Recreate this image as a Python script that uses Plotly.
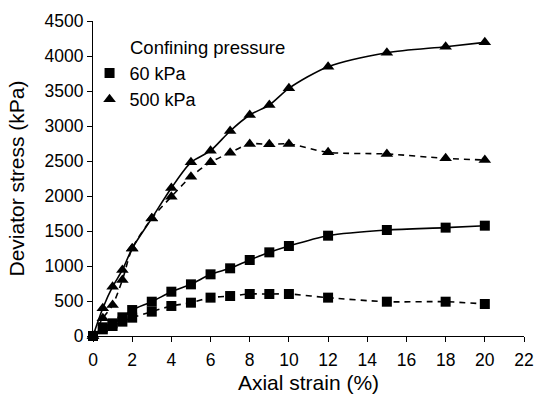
import plotly.graph_objects as go

strain = [0, 0.5, 1, 1.5, 2, 3, 4, 5, 6, 7, 8, 9, 10, 12, 15, 18, 20]
peak_60 = [0, 124, 181, 267, 371, 490, 633, 738, 881, 967, 1086, 1195, 1286, 1433, 1514, 1548, 1576]
res_60 = [0, 95, 143, 205, 262, 348, 429, 476, 548, 571, 600, 600, 600, 548, 490, 490, 457]
peak_500 = [0, 396, 704, 943, 1250, 1681, 2114, 2481, 2647, 2929, 3157, 3300, 3538, 3847, 4047, 4133, 4195]
res_500 = [0, 253, 443, 800, 1250, 1680, 1990, 2276, 2481, 2619, 2743, 2738, 2743, 2624, 2600, 2538, 2514]

x_ticks = list(range(0, 23, 2))
y_ticks = list(range(0, 4501, 500))

FONT = "Liberation Sans, Arial, sans-serif"
fig = go.Figure()

line_solid = dict(color="black", width=1.6, shape="spline", smoothing=0.8)
line_dash = dict(color="black", width=1.6, shape="spline", smoothing=0.8, dash="6px,5px")

for ys, ln in [(peak_60, line_solid), (res_60, line_dash), (peak_500, line_solid), (res_500, line_dash)]:
    fig.add_trace(go.Scatter(x=strain, y=ys, mode="lines", line=ln, showlegend=False,
                             hoverinfo="skip", cliponaxis=False))

fig.add_trace(go.Scatter(x=strain + strain, y=peak_60 + res_60, mode="markers", name="60 kPa",
                         marker=dict(symbol="square", size=10, color="black"), cliponaxis=False))
fig.add_trace(go.Scatter(x=strain + strain, y=peak_500 + res_500, mode="markers", name="500 kPa",
                         marker=dict(symbol="triangle-up", size=11, color="black"), cliponaxis=False))

fig.add_annotation(text="Confining pressure", xref="paper", yref="paper", x=0.0806, y=0.9166,
                   xanchor="left", yanchor="middle", showarrow=False,
                   font=dict(family=FONT, size=18.5, color="black"))

fig.update_layout(
    width=537, height=394,
    margin=dict(l=93, r=13, t=21, b=58),
    paper_bgcolor="white", plot_bgcolor="white",
    font=dict(family=FONT, size=17.5, color="black"),
    legend=dict(x=-0.008, y=0.893, xanchor="left", yanchor="top", bgcolor="rgba(0,0,0,0)",
                font=dict(size=18), tracegroupgap=0, itemwidth=30),
    xaxis=dict(range=[0, 22], tickvals=x_ticks, showline=True, linecolor="black", linewidth=1,
               ticks="outside", ticklen=5, tickcolor="black", showgrid=False, zeroline=False,
               ticklabelstandoff=3, automargin=False,
               title=dict(text="Axial strain (%)", standoff=12)),
    yaxis=dict(range=[0, 4500], tickvals=y_ticks, showline=True, linecolor="black", linewidth=1,
               ticks="outside", ticklen=5, tickcolor="black", showgrid=False, zeroline=False,
               automargin=False,
               title=dict(text="Deviator stress (kPa)", standoff=14)),
)

fig.write_html("out.html")
